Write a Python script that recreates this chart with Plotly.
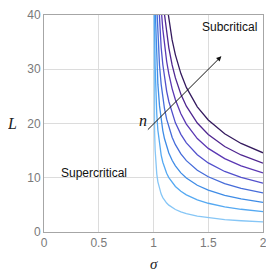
import plotly.graph_objects as go

sigma = [1.001, 1.002, 1.004, 1.007, 1.01, 1.015, 1.02, 1.03, 1.04, 1.055, 1.07, 1.085,
         1.1, 1.12, 1.14, 1.17, 1.2, 1.25, 1.3, 1.4, 1.5, 1.65, 1.8, 2.0]

L_n1 = [58.50, 41.37, 29.25, 22.11, 18.50, 15.11, 13.08, 10.68, 9.25, 7.89, 6.99, 6.35,
        5.85, 5.34, 4.95, 4.49, 4.14, 3.70, 3.38, 2.92, 2.62, 2.29, 2.07, 1.85]
L_n2 = [118.58, 83.85, 59.29, 44.81, 37.50, 30.62, 26.52, 21.65, 18.75, 15.99, 14.18, 12.86,
        11.86, 10.83, 10.02, 9.09, 8.39, 7.50, 6.85, 5.93, 5.30, 4.65, 4.19, 3.75]
L_n3 = [172.3, 121.9, 86.16, 65.13, 54.5, 44.50, 38.54, 31.47, 27.25, 23.24, 20.60, 18.69,
        17.23, 15.73, 14.57, 13.22, 12.19, 10.90, 9.95, 8.62, 7.71, 6.76, 6.09, 5.45]
L_n4 = [227.7, 161.0, 113.8, 86.04, 72.0, 58.79, 50.91, 41.57, 36.0, 30.70, 27.22, 24.70,
        22.77, 20.79, 19.25, 17.46, 16.10, 14.40, 13.15, 11.38, 10.18, 8.93, 8.05, 7.20]
L_n5 = [284.6, 201.2, 142.3, 107.6, 90.0, 73.49, 63.64, 51.97, 45.0, 38.38, 34.02, 30.87,
        28.46, 25.98, 24.06, 21.83, 20.12, 18.0, 16.43, 14.23, 12.73, 11.16, 10.06, 9.0]
L_n6 = [344.7, 243.7, 172.3, 130.3, 109.0, 89.0, 77.07, 62.94, 54.5, 46.48, 41.20, 37.39,
        34.47, 31.47, 29.14, 26.43, 24.37, 21.80, 19.90, 17.23, 15.41, 13.52, 12.19, 10.90]
L_n7 = [401.6, 284.0, 200.8, 151.8, 127.0, 103.7, 89.80, 73.33, 63.5, 54.15, 48.01, 43.56,
        40.16, 36.66, 33.95, 30.80, 28.40, 25.40, 23.19, 20.08, 17.96, 15.75, 14.20, 12.70]
L_n8 = [461.7, 326.5, 230.8, 174.5, 146.0, 119.2, 103.2, 84.30, 73.0, 62.25, 55.19, 50.08,
        46.17, 42.15, 39.03, 35.41, 32.65, 29.20, 26.66, 23.08, 20.64, 18.10, 16.32, 14.60]

curves = [L_n1, L_n2, L_n3, L_n4, L_n5, L_n6, L_n7, L_n8]
colors = ["#86c6f6", "#55a9f2", "#3f8ce6", "#466cd9", "#5250cc", "#5a37b3", "#4f2690", "#341a5e"]

x_ticks = [0, 0.5, 1, 1.5, 2]
x_ticklabels = ["0", "0.5", "1", "1.5", "2"]
y_ticks = [0, 10, 20, 30, 40]
y_ticklabels = ["0", "10", "20", "30", "40"]

fig = go.Figure()
for Ls, c in zip(curves, colors):
    fig.add_trace(go.Scatter(x=sigma, y=Ls, mode="lines",
                             line=dict(color=c, width=1.3), showlegend=False,
                             hoverinfo="skip"))

sans = "Liberation Sans, Arial, sans-serif"
serif = "Liberation Serif, Times New Roman, serif"

fig.add_annotation(x=1.62, y=32.4, ax=0.935, ay=18.6, xref="x", yref="y",
                   axref="x", ayref="y", showarrow=True, arrowhead=2,
                   arrowsize=1, arrowwidth=1, arrowcolor="#111", standoff=0, text="")
fig.add_annotation(x=0.905, y=20.6, xref="x", yref="y", text="<i>n</i>",
                   showarrow=False, font=dict(family=serif, size=16, color="#111"))
fig.add_annotation(x=1.69, y=37.7, xref="x", yref="y", text="Subcritical",
                   showarrow=False, font=dict(family=sans, size=12, color="#111"))
fig.add_annotation(x=0.46, y=10.9, xref="x", yref="y", text="Supercritical",
                   showarrow=False, font=dict(family=sans, size=12, color="#111"))
# axis titles
fig.add_annotation(x=0.5, y=0, xref="paper", yref="paper", yshift=-32,
                   text="<i>σ</i>", showarrow=False, yanchor="middle",
                   font=dict(family=serif, size=15, color="#222"))
fig.add_annotation(x=0, y=0.5, xref="paper", yref="paper", xshift=-32,
                   text="<i>L</i>", showarrow=False, xanchor="center",
                   font=dict(family=serif, size=16, color="#222"))

axis_common = dict(showgrid=True, gridcolor="#dcdcdc", gridwidth=1,
                   showline=True, linecolor="#a6a6a6", linewidth=1, mirror=True,
                   zeroline=False, ticks="", automargin=False,
                   ticklabeloverflow="allow",
                   tickfont=dict(family=sans, size=12, color="#7a7a7a"))

fig.update_layout(
    width=266, height=264,
    margin=dict(l=36, r=11, t=7, b=40),
    paper_bgcolor="white", plot_bgcolor="white",
    xaxis=dict(range=[0, 2], tickvals=x_ticks, ticktext=x_ticklabels, **axis_common),
    yaxis=dict(range=[0, 40], tickvals=y_ticks, ticktext=y_ticklabels, **axis_common),
)

fig.write_html("out.html")
